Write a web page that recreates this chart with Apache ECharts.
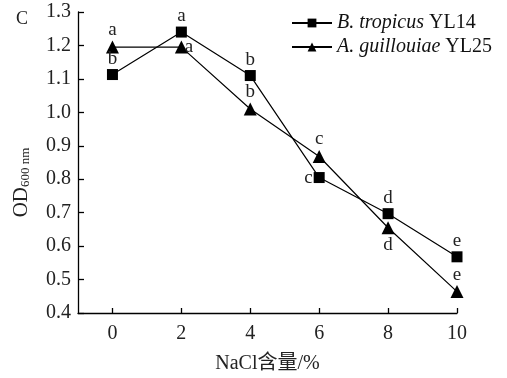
<!DOCTYPE html>
<html>
<head>
<meta charset="utf-8">
<script src="https://cdn.jsdelivr.net/npm/echarts@6/dist/echarts.min.js"></script>
<style>
  html, body { margin: 0; padding: 0; background: #fff; }
  #chart { width: 507px; height: 378px; }
</style>
</head>
<body>
<div id="chart"></div>
<script>
// NaCl content (%)
const nacl = [0, 2, 4, 6, 8, 10];
const xTicks = [0, 2, 4, 6, 8, 10];

// OD600 readings
const tropicus = [1.113, 1.24, 1.11, 0.805, 0.697, 0.568];
const guillouiae = [1.195, 1.195, 1.01, 0.868, 0.655, 0.464];

// significance letters
const tropicusSig = ['b', 'a', 'b', 'c', 'd', 'e'];
const guillouiaeSig = ['a', 'a', 'b', 'c', 'd', 'e'];

const serif = '"Liberation Serif", "DejaVu Serif", serif';

// where each letter sits relative to its marker
const tropicusPos = ['top', 'top', 'top', 'left', 'top', 'top'];
const guillouiaePos = ['top', 'right', 'top', 'top', 'bottom', 'top'];

function points(vals, sig, pos) {
  return vals.map((v, i) => ({
    value: [nacl[i], v],
    label: {
      show: true,
      formatter: sig[i],
      position: pos[i],
      distance: pos[i] === 'right' ? -3 : pos[i] === 'left' ? 1 : 1,
      color: '#222',
      fontFamily: serif,
      fontSize: 19
    }
  }));
}

const chart = echarts.init(document.getElementById('chart'));

chart.setOption({
  animation: false,
  title: {
    text: 'C',
    left: 11,
    top: 5,
    textStyle: { fontFamily: serif, fontSize: 18, fontWeight: 'normal', color: '#222' }
  },
  legend: {
    orient: 'vertical',
    left: 286,
    top: 8,
    itemWidth: 40,
    itemHeight: 11,
    itemGap: 4,
    textStyle: {
      fontFamily: serif,
      fontSize: 20,
      color: '#111',
      rich: {
        i: { fontStyle: 'italic', fontFamily: serif, fontSize: 20, color: '#111' },
        n: { fontFamily: serif, fontSize: 20, color: '#111' }
      }
    },
    formatter: function (name) {
      const parts = name.split(' ');
      return '{i|' + parts[0] + ' ' + parts[1] + '}{n| ' + parts[2] + '}';
    }
  },
  grid: { left: 78, right: 50, top: 12, bottom: 65, outerBoundsMode: 'none', containLabel: false },
  xAxis: {
    type: 'value',
    min: -1,
    max: 10,
    name: 'NaCl含量/%',
    nameLocation: 'middle',
    nameGap: 41,
    nameTextStyle: { fontFamily: serif + ', "Noto Sans CJK SC"', fontSize: 20, color: '#222' },
    axisLine: { show: true, onZero: false, lineStyle: { color: '#000', width: 1.3 } },
    axisTick: { inside: true, length: 5, customValues: xTicks, lineStyle: { color: '#000', width: 1.3 } },
    axisLabel: { customValues: xTicks, fontFamily: serif, fontSize: 20, color: '#222', margin: 11 },
    splitLine: { show: false }
  },
  yAxis: {
    type: 'value',
    min: 0.4,
    max: 1.3,
    interval: 0.1,
    name: '{a|OD}{b|600 nm}',
    nameLocation: 'middle',
    nameGap: 46,
    nameTextStyle: {
      rich: {
        a: { fontFamily: serif, fontSize: 21, color: '#222' },
        b: { fontFamily: serif, fontSize: 13, color: '#222', padding: [9, 40, 0, 0] }
      }
    },
    axisLine: { show: true, onZero: false, lineStyle: { color: '#000', width: 1.3 } },
    axisTick: { inside: true, length: 6, lineStyle: { color: '#000', width: 1.3 } },
    axisLabel: {
      fontFamily: serif,
      fontSize: 20,
      color: '#222',
      margin: 7,
      formatter: v => v.toFixed(1)
    },
    splitLine: { show: false }
  },
  series: [
    {
      name: 'B. tropicus YL14',
      type: 'line',
      data: points(tropicus, tropicusSig, tropicusPos),
      symbol: 'rect',
      symbolSize: 11,
      itemStyle: { color: '#000' },
      lineStyle: { color: '#000', width: 1.2 },
      z: 3
    },
    {
      name: 'A. guillouiae YL25',
      type: 'line',
      data: points(guillouiae, guillouiaeSig, guillouiaePos),
      symbol: 'triangle',
      symbolSize: 13,
      itemStyle: { color: '#000' },
      lineStyle: { color: '#000', width: 1.2 },
      z: 2
    }
  ]
});
</script>
</body>
</html>
